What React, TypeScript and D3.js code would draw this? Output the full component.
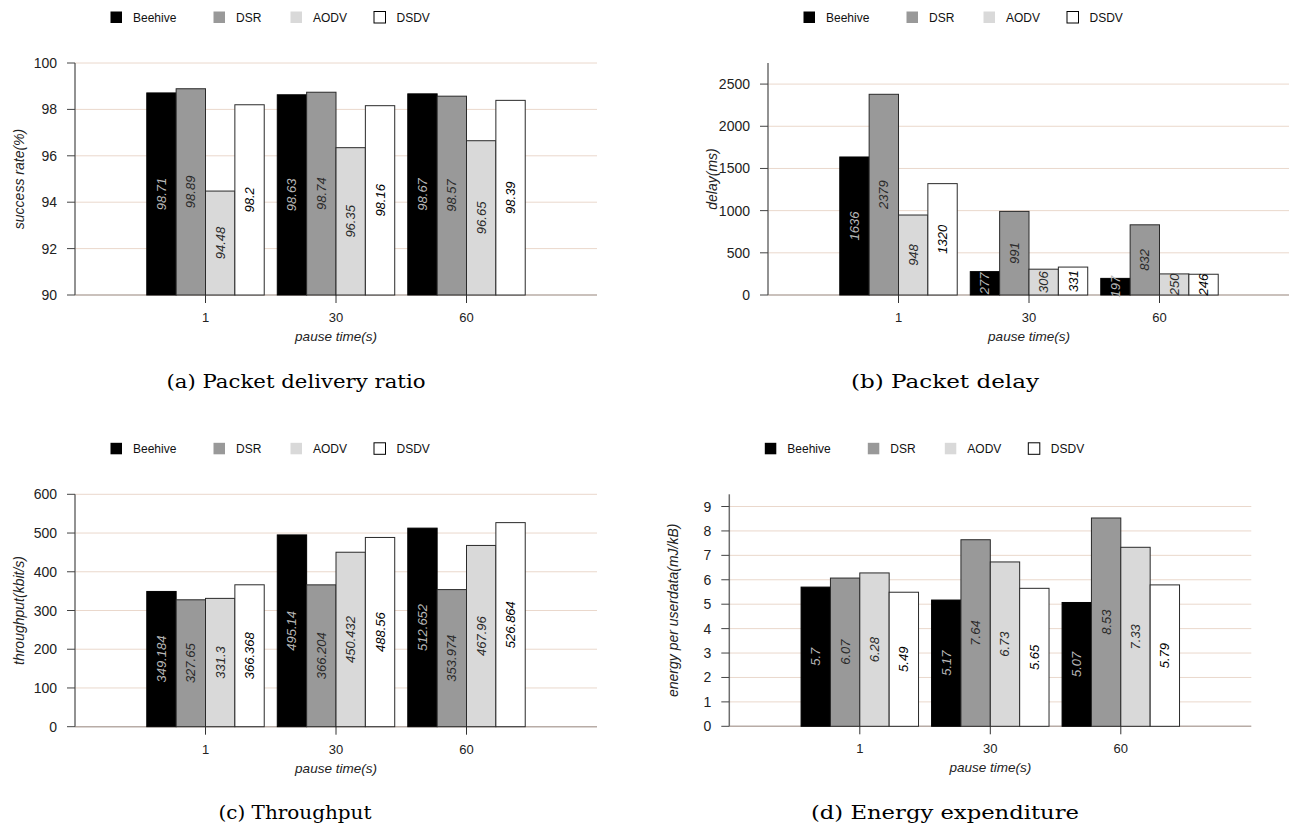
import React from "react";
import * as d3 from "d3";

const categories = ["1", "30", "60"];
const seriesNames = ["Beehive", "DSR", "AODV", "DSDV"];
const seriesColors = ["#000000", "#999999", "#d9d9d9", "#ffffff"];
const labelColors = ["#b8b8b8", "#2a2a2a", "#2a2a2a", "#000000"];

const pdrBeehive = [98.71, 98.63, 98.67];
const pdrDSR = [98.89, 98.74, 98.57];
const pdrAODV = [94.48, 96.35, 96.65];
const pdrDSDV = [98.2, 98.16, 98.39];
const pdrTicks = [90, 92, 94, 96, 98, 100];

const delayBeehive = [1636, 277, 197];
const delayDSR = [2379, 991, 832];
const delayAODV = [948, 306, 250];
const delayDSDV = [1320, 331, 246];
const delayTicks = [0, 500, 1000, 1500, 2000, 2500];

const tpBeehive = [349.184, 495.14, 512.652];
const tpDSR = [327.65, 366.204, 353.974];
const tpAODV = [331.3, 450.432, 467.96];
const tpDSDV = [366.368, 488.56, 526.864];
const tpTicks = [0, 100, 200, 300, 400, 500, 600];

const enBeehive = [5.7, 5.17, 5.07];
const enDSR = [6.07, 7.64, 8.53];
const enAODV = [6.28, 6.73, 7.33];
const enDSDV = [5.49, 5.65, 5.79];
const enTicks = [0, 1, 2, 3, 4, 5, 6, 7, 8, 9];

const panels = [
  {
    series: [pdrBeehive, pdrDSR, pdrAODV, pdrDSDV],
    domain: [90, 100], ticks: pdrTicks, ytitle: "success rate(%)",
    axisX: 75, top: 63, bottom: 295, caption: "(a) Packet delivery ratio", capX: 296, capY: 388, capW: 259,
  },
  {
    series: [delayBeehive, delayDSR, delayAODV, delayDSDV],
    domain: [0, 2750], ticks: delayTicks, ytitle: "delay(ms)",
    axisX: 768, top: 63, bottom: 295, caption: "(b) Packet delay", capX: 945, capY: 388, capW: 188,
  },
  {
    series: [tpBeehive, tpDSR, tpAODV, tpDSDV],
    domain: [0, 600], ticks: tpTicks, ytitle: "throughput(kbit/s)",
    axisX: 75, top: 494.3, bottom: 726.7, caption: "(c) Throughput", capX: 295, capY: 819, capW: 153,
  },
  {
    series: [enBeehive, enDSR, enAODV, enDSDV],
    domain: [0, 9.5], ticks: enTicks, ytitle: "energy per userdata(mJ/kB)",
    axisX: 729.3, top: 494.3, bottom: 726.3, caption: "(d) Energy expenditure", capX: 945, capY: 819, capW: 268,
  },
];

const legendOffsets = [35, 138, 215, 298.5];
const SANS = "Liberation Sans, Arial, sans-serif";

function Panel({ p }: { p: any }) {
  const width = 522;
  const x = d3.scaleLinear().domain([0, categories.length + 1]).range([p.axisX, p.axisX + width]);
  const step = x(1) - x(0);
  const inner = d3.scaleBand().domain(seriesNames).range([-step * 0.45, step * 0.45]).padding(0);
  const y = d3.scaleLinear().domain(p.domain).range([p.bottom, p.top]);
  const base = y(p.domain[0]);
  return (
    <g>
      {seriesNames.map((s, i) => (
        <g key={s}>
          <rect x={p.axisX + legendOffsets[i] + 0.5} y={p.top - 51.5} width={11.5} height={11.5}
            fill={seriesColors[i]} stroke={i === 3 ? "#000" : "none"} strokeWidth={1} />
          <text x={p.axisX + legendOffsets[i] + 23} y={p.top - 41.5} fontFamily={SANS} fontSize={12} fill="#111">{s}</text>
        </g>
      ))}
      {p.ticks.map((t: number) => (
        <line key={t} x1={p.axisX} x2={p.axisX + width} y1={y(t)} y2={y(t)}
          stroke={t === p.domain[0] ? "#b8aca6" : "#ead8cc"} strokeWidth={t === p.domain[0] ? 1.5 : 1} />
      ))}
      {categories.map((c, ci) => (
        <g key={c}>
          {seriesNames.map((s, si) => {
            const v = p.series[si][ci];
            const bx = x(ci + 1) + (inner(s) as number);
            const bw = inner.bandwidth();
            const by = y(v);
            return (
              <g key={s}>
                <rect x={bx} y={by} width={bw} height={base - by} fill={seriesColors[si]}
                  stroke={si === 0 ? "#000" : "#2a2a2a"} strokeWidth={1} />
                <text transform={`translate(${bx + bw / 2 + 4.5},${(by + base) / 2}) rotate(-90)`}
                  textAnchor="middle" fontFamily={SANS} fontSize={13} fontStyle="italic" fill={labelColors[si]}>
                  {String(v)}
                </text>
              </g>
            );
          })}
        </g>
      ))}
      <line x1={p.axisX} x2={p.axisX} y1={p.top} y2={p.bottom} stroke="#6e6e6e" strokeWidth={1.5} />
      {p.ticks.map((t: number) => (
        <g key={"t" + t}>
          <line x1={p.axisX - 8} x2={p.axisX} y1={y(t)} y2={y(t)} stroke="#444" strokeWidth={1} />
          <text x={p.axisX - 18} y={y(t) + 5} textAnchor="end" fontFamily={SANS} fontSize={14} fill="#222">{t}</text>
        </g>
      ))}
      {categories.map((c, ci) => (
        <g key={"x" + c}>
          <line x1={x(ci + 1)} x2={x(ci + 1)} y1={base} y2={base + 8} stroke="#333" strokeWidth={1} />
          <text x={x(ci + 1)} y={base + 27} textAnchor="middle" fontFamily={SANS} fontSize={13} fill="#222">{c}</text>
        </g>
      ))}
      <text x={x(2)} y={base + 46} textAnchor="middle" fontFamily={SANS} fontSize={13.5} fontStyle="italic" fill="#222">pause time(s)</text>
      <text transform={`translate(${p.axisX - 51},${(p.top + p.bottom) / 2}) rotate(-90)`} textAnchor="middle"
        fontFamily={SANS} fontSize={14} fontStyle="italic" fill="#222">{p.ytitle}</text>
      <text x={p.capX} y={p.capY} textAnchor="middle" fontFamily="DejaVu Serif, serif" fontSize={18}
        textLength={p.capW} lengthAdjust="spacingAndGlyphs" fill="#000">{p.caption}</text>
    </g>
  );
}

export default function App() {
  return (
    <svg width={1289} height={832} style={{ position: "absolute", left: 0, top: 0, background: "#fff" }}>
      <rect x={0} y={0} width={1289} height={832} fill="#fff" />
      {panels.map((p, i) => (
        <Panel key={i} p={p} />
      ))}
    </svg>
  );
}
